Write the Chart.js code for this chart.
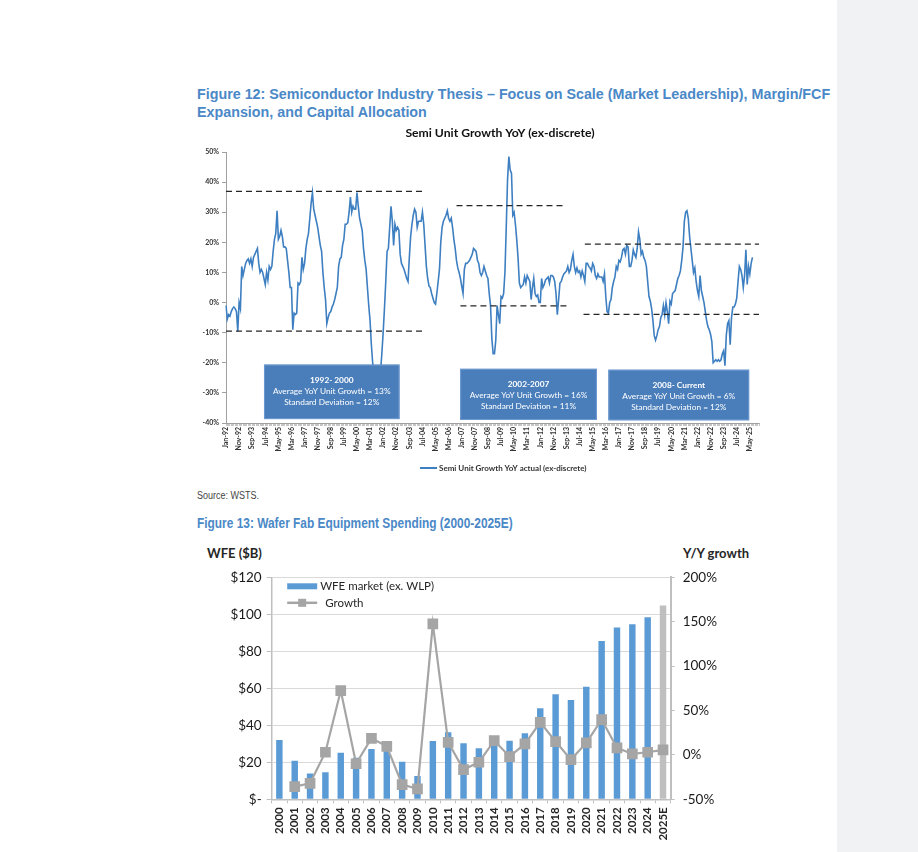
<!DOCTYPE html>
<html>
<head>
<meta charset="utf-8">
<script src="https://cdn.jsdelivr.net/npm/chart.js@4.4.1/dist/chart.umd.min.js"></script>
<style>
html,body{margin:0;padding:0;background:#fff;width:918px;height:852px;overflow:hidden;}
body{position:relative;font-family:'Liberation Sans',Arial,sans-serif;}
#band{position:absolute;left:837px;top:0;width:81px;height:852px;background:#f1f2f4;}
.fig{position:absolute;left:197px;font-family:'Liberation Sans',Arial,sans-serif;font-weight:bold;font-size:14.3px;color:#4a88c7;line-height:18px;white-space:nowrap;transform-origin:0 0;}
.src{position:absolute;left:197px;top:490px;font-size:10px;color:#444;transform:scaleX(0.9);transform-origin:0 0;}
.axt{position:absolute;font-family:Lato,'Open Sans',sans-serif;font-weight:bold;font-size:13px;color:#262626;white-space:nowrap;}
canvas{position:absolute;}
</style>
</head>
<body>
<div id="band"></div>
<div class="fig" style="top:85px;">Figure 12: Semiconductor Industry Thesis – Focus on Scale (Market Leadership), Margin/FCF<br>Expansion, and Capital Allocation</div>
<div class="src">Source: WSTS.</div>
<div class="fig" style="top:514px;font-size:14px;transform:scaleX(0.85);">Figure 13: Wafer Fab Equipment Spending (2000-2025E)</div>
<div class="axt" style="left:207px;top:545px;">WFE ($B)</div>
<div class="axt" style="left:683px;top:545px;">Y/Y growth</div>
<canvas id="c1" width="580" height="360" style="left:190px;top:120px;"></canvas>
<canvas id="c2" width="560" height="312" style="left:200px;top:540px;"></canvas>
<script>
// ---------- Chart 1 data ----------
const monthNames = ['Jan','Feb','Mar','Apr','May','Jun','Jul','Aug','Sep','Oct','Nov','Dec'];
const firstYear = 1992, lastYear = 2025;
const months = [];
for (let y = firstYear; y <= lastYear; y++) {
  for (let m = 0; m < 12; m++) months.push(monthNames[m] + '-' + String(y % 100).padStart(2, '0'));
}
const tickEvery = 10;
const chartTitle1 = 'Semi Unit Growth YoY (ex-discrete)';
const seriesName = 'Semi Unit Growth YoY actual (ex-discrete)';
const semiUnitGrowth = [
 -1,-5.5,-4,-4.5,-3,-2,-1.5,-2,-3,-9.5,
 0,-2,12,9,11,13,14,14.5,13,14.5,
 12,15,16,17,18,13,10,11,10,8,
 6,10,7.5,12,11,12,17,21,23,30.5,
 21,22,24,22,18.5,18.5,18,14,10,5,
 5,-9,-3.5,-4,-3.5,6.5,6,7,15,11,
 13,18,21,23,28,33,36.5,31,29,27,
 25,22,19,17,10,5,1,-7,-5,-3.5,
 -3,-1.5,-0.5,1,3,5,12,14.5,15,19,
 21,26,26,26.5,30,35,30,32,31,31,
 36.5,32,28,26,24,18,14,11,5,-1,
 -6,-14,-20,-25,-28,-29,-28,-27,-23,-17,
 -10,-2,7,17,18,25,32,27,19,26,
 24,25,24,16,13,12,11,9.5,8,7,
 15,22,26,29,31,30,25,27,27,27,
 30,26,19,12,8,5.5,5,3,1.5,0,
 -0.5,3,7,11,20,25,27,28,29,30.5,
 28,27,28,25,21,18,14,11.5,10,8,
 5.5,3,11,13,13,13.5,14,15,16,18,
 17.5,17,14,13,10,9,10,12,10.5,9,
 8,3,-1,-12,-17,-17,-12.5,-1,-4,-7,
 2,1.5,3,10,25,41,48.5,44,43,29,
 30,26,21,15,6.5,5,5.5,6,8.5,6.5,
 9,8,7,1,5,8,3,2,2.5,0,
 0,8,5,6,7.5,8,8.5,6.5,9,9,
 8.5,7,3,-4,1,6.5,7,8.5,9.5,10,
 10.5,12,10,11,14,16,12,10,11.5,10,
 10.5,8.5,10.5,9,7,13,13,12,11.5,10.5,
 13,12,9,8,9.5,8.5,8.5,8.5,7,9.5,
 2,-3,-3.5,0,1,5,7,8.5,12,11,
 14,13.5,15,17.5,18,16,19,18.5,12,12,
 14,17.5,16,15,18,23.5,21,16,17,15,
 14,12,7,2,0.5,-2,-6,-11,-12.5,-11,
 -9,-8,-5,-4,-1,-4,0,-3,-7,0.5,
 -0.5,3,3.5,4,6,8,9,10.5,14,18.5,
 27,30,30.5,28,22,18,14,10,11.5,7,
 4,2,9,4,2,0,-3,-6,-8,-9,
 -10.5,-13,-20,-19.5,-19,-19.5,-19,-19.5,-19,-17,
 -16,-21,-11,-7,-6,-14,-5,-1.5,-1.5,-0.5,
 1.5,7,12,11,9,5,9,17.5,6,12,
 9.5,13,15
];
// Regimes
const regimeTitles = ['1992- 2000','2002-2007','2008- Current'];
const regimeAvg = [13, 16, 6];
const regimeStd = [12, 11, 12];
const bandUpper = [36.9, 32.2, 19.4];
const bandLower = [-9.5, -1.1, -3.9];
const upperStart = ['Jan-92','Sep-06','Nov-14'];
const upperEnd   = ['Sep-04','Sep-13','Dec-25'];
const lowerStart = ['Jan-92','Dec-06','Oct-14'];
const lowerEnd   = ['Jul-04','Nov-13','Dec-25'];

// annotation boxes (x in month index, y in %)
const boxes = [
  {x0: 29, x1: 132.5, y0: -20.6, y1: -38.7},
  {x0: 178.8, x1: 283.2, y0: -22.0, y1: -39.0},
  {x0: 292, x1: 399.5, y0: -22.3, y1: -39.1}
];

const bandDatasets = [];
for (let i = 0; i < 3; i++) {
  bandDatasets.push({label: 'band', data: [{x: upperStart[i], y: bandUpper[i]}, {x: upperEnd[i], y: bandUpper[i]}]});
  bandDatasets.push({label: 'band', data: [{x: lowerStart[i], y: bandLower[i]}, {x: lowerEnd[i], y: bandLower[i]}]});
}
bandDatasets.forEach(d => Object.assign(d, {borderColor: '#262626', borderWidth: 1.3, borderDash: [6, 4], pointRadius: 0, fill: false, order: 0}));

const boxPlugin = {
  id: 'boxes',
  afterDatasetsDraw(chart) {
    const ctx = chart.ctx, xs = chart.scales.x, ys = chart.scales.y;
    ctx.save();
    boxes.forEach((b, i) => {
      const l = xs.getPixelForValue(b.x0), r = xs.getPixelForValue(b.x1);
      const t = ys.getPixelForValue(b.y0), btm = ys.getPixelForValue(b.y1);
      ctx.fillStyle = '#4a7ebb';
      ctx.fillRect(l, t, r - l, btm - t);
      ctx.strokeStyle = '#6f9ad0';
      ctx.lineWidth = 1;
      ctx.strokeRect(l + 0.5, t + 0.5, r - l - 1, btm - t - 1);
      const cx = (l + r) / 2;
      ctx.fillStyle = '#ffffff';
      ctx.textAlign = 'center';
      ctx.textBaseline = 'middle';
      ctx.font = 'bold 8.3px Lato, sans-serif';
      ctx.fillText(regimeTitles[i], cx, t + 16);
      ctx.font = '8.3px Lato, sans-serif';
      ctx.fillText('Average YoY Unit Growth = ' + regimeAvg[i] + '%', cx, t + 27);
      ctx.fillText('Standard Deviation = ' + regimeStd[i] + '%', cx, t + 38);
    });
    ctx.restore();
  },
  afterDraw(chart) {
    const ctx = chart.ctx;
    ctx.save();
    // title
    ctx.fillStyle = '#111';
    ctx.font = 'bold 12.2px Lato, sans-serif';
    ctx.textAlign = 'center'; ctx.textBaseline = 'middle';
    ctx.fillText(chartTitle1, 310, 13);
    // legend
    ctx.strokeStyle = '#3d7fc1';
    ctx.lineWidth = 2;
    ctx.beginPath(); ctx.moveTo(230, 348); ctx.lineTo(247, 348); ctx.stroke();
    ctx.fillStyle = '#333';
    ctx.font = 'bold 8px Lato, sans-serif';
    ctx.textAlign = 'left'; ctx.textBaseline = 'middle';
    ctx.fillText(seriesName, 249, 348.5);
    ctx.restore();
  }
};

new Chart(document.getElementById('c1'), {
  type: 'line',
  data: {
    labels: months,
    datasets: [
      {label: seriesName, data: semiUnitGrowth, borderColor: '#3d7fc1', borderWidth: 1.6, pointRadius: 0, tension: 0, fill: false, order: 1},
      ...bandDatasets
    ]
  },
  options: {
    responsive: false,
    animation: false,
    layout: {padding: {top: 32, right: 11, bottom: 25, left: 0}},
    plugins: {
      legend: {display: false},
      tooltip: {enabled: false},
      title: {display: false}
    },
    scales: {
      x: {
        type: 'category',
        offset: false,
        afterFit: s => { s.height = 32; },
        grid: {display: true, drawOnChartArea: false, tickLength: 3, color: '#a0a0a0', lineWidth: 0.6},
        border: {color: '#a0a0a0'},
        ticks: {
          autoSkip: false, maxRotation: 90, minRotation: 90, padding: 1,
          color: '#333', font: {family: 'Lato', weight: 'bold', size: 7},
          callback: (v, i) => (i % tickEvery === 0 ? months[i] : '')
        }
      },
      y: {
        min: -40, max: 50,
        afterFit: s => { s.width = 36; },
        grid: {display: true, drawOnChartArea: false, tickLength: 4, color: '#a0a0a0'},
        border: {color: '#a0a0a0'},
        ticks: {stepSize: 10, padding: 3, color: '#333', font: {family: 'Lato', weight: 'bold', size: 7}, callback: v => v + '%'}
      }
    }
  },
  plugins: [boxPlugin]
});

// ---------- Chart 2 data ----------
const years = ['2000','2001','2002','2003','2004','2005','2006','2007','2008','2009','2010','2011','2012','2013','2014','2015','2016','2017','2018','2019','2020','2021','2022','2023','2024','2025E'];
const wfeMarket = [32, 20.9, 14, 14.6, 25.2, 22.5, 27.2, 29.5, 20.3, 12.6, 31.5, 36.2, 30.3, 27.6, 32, 31.7, 35.7, 49.2, 56.8, 53.7, 60.9, 85.6, 92.8, 94.6, 98.4, 104.7];
const wfeGrowth = [null, -35.7, -32, 3, 72.4, -10, 18.7, 9.7, -33.4, -38.3, 147.5, 14.2, -16.5, -8.3, 16.1, -1.9, 12.4, 36.7, 15, -5.3, 13.5, 39.8, 7.9, 1.1, 3, 5.6];
const barLabel = 'WFE market (ex. WLP)';
const lineLabel = 'Growth';

const legend2 = {
  id: 'legend2',
  afterDraw(chart) {
    const ctx = chart.ctx;
    const a = chart.chartArea;
    ctx.save();
    ctx.fillStyle = '#5b9bd5';
    ctx.fillRect(a.left + 15.5, a.top + 6, 30, 6);
    ctx.strokeStyle = '#a5a5a5'; ctx.lineWidth = 2.5;
    ctx.beginPath(); ctx.moveTo(a.left + 15.5, a.top + 25.5); ctx.lineTo(a.left + 45.5, a.top + 25.5); ctx.stroke();
    ctx.fillStyle = '#a5a5a5';
    ctx.fillRect(a.left + 26.5, a.top + 21.5, 8, 8);
    ctx.fillStyle = '#262626';
    ctx.font = '11.5px Lato, sans-serif';
    ctx.textAlign = 'left'; ctx.textBaseline = 'middle';
    ctx.fillText(barLabel, a.left + 48.5, a.top + 9);
    ctx.fillText(lineLabel, a.left + 53.5, a.top + 25.5);
    ctx.restore();
  }
};

new Chart(document.getElementById('c2'), {
  type: 'bar',
  data: {
    labels: years,
    datasets: [
      {type: 'line', label: lineLabel, data: wfeGrowth, yAxisID: 'y1', borderColor: '#a5a5a5', borderWidth: 2.2,
       pointStyle: 'rect', pointRadius: 6, pointBackgroundColor: '#a5a5a5', pointBorderColor: '#a5a5a5', tension: 0, order: 0, spanGaps: false},
      {type: 'bar', label: barLabel, data: wfeMarket, yAxisID: 'y',
       backgroundColor: ctx => (ctx.index === years.length - 1 ? '#bfbfbf' : '#5b9bd5'),
       categoryPercentage: 1, barPercentage: 0.42, order: 1}
    ]
  },
  options: {
    responsive: false,
    animation: false,
    layout: {padding: {top: 37.3, right: 0, bottom: 0, left: 0}},
    plugins: {legend: {display: false}, tooltip: {enabled: false}},
    scales: {
      x: {
        offset: true,
        afterFit: s => { s.height = 52.7; },
        grid: {display: true, offset: true, drawOnChartArea: false, tickLength: 4, color: '#bfbfbf'},
        border: {color: '#bfbfbf', width: 1.5},
        ticks: {autoSkip: false, maxRotation: 90, minRotation: 90, padding: 4, color: '#262626', font: {family: 'Lato', weight: 'bold', size: 11.5}}
      },
      y: {
        position: 'left', min: 0, max: 120,
        afterFit: s => { s.width = 71.7; },
        grid: {color: '#d9d9d9', tickColor: '#bfbfbf', tickLength: 5},
        border: {color: '#bfbfbf', width: 1.5},
        ticks: {stepSize: 20, padding: 5, color: '#1a1a1a', font: {family: 'Lato', size: 13.5}, callback: v => (v === 0 ? '$-' : '$' + v)}
      },
      y1: {
        position: 'right', min: -50, max: 200,
        afterFit: s => { s.width = 89.3; },
        grid: {drawOnChartArea: false, color: '#bfbfbf', tickLength: 4},
        border: {color: '#bfbfbf', width: 2},
        ticks: {stepSize: 50, padding: 8, color: '#1a1a1a', font: {family: 'Lato', size: 13.5}, callback: v => v + '%'}
      }
    }
  },
  plugins: [legend2]
});
</script>
</body>
</html>
